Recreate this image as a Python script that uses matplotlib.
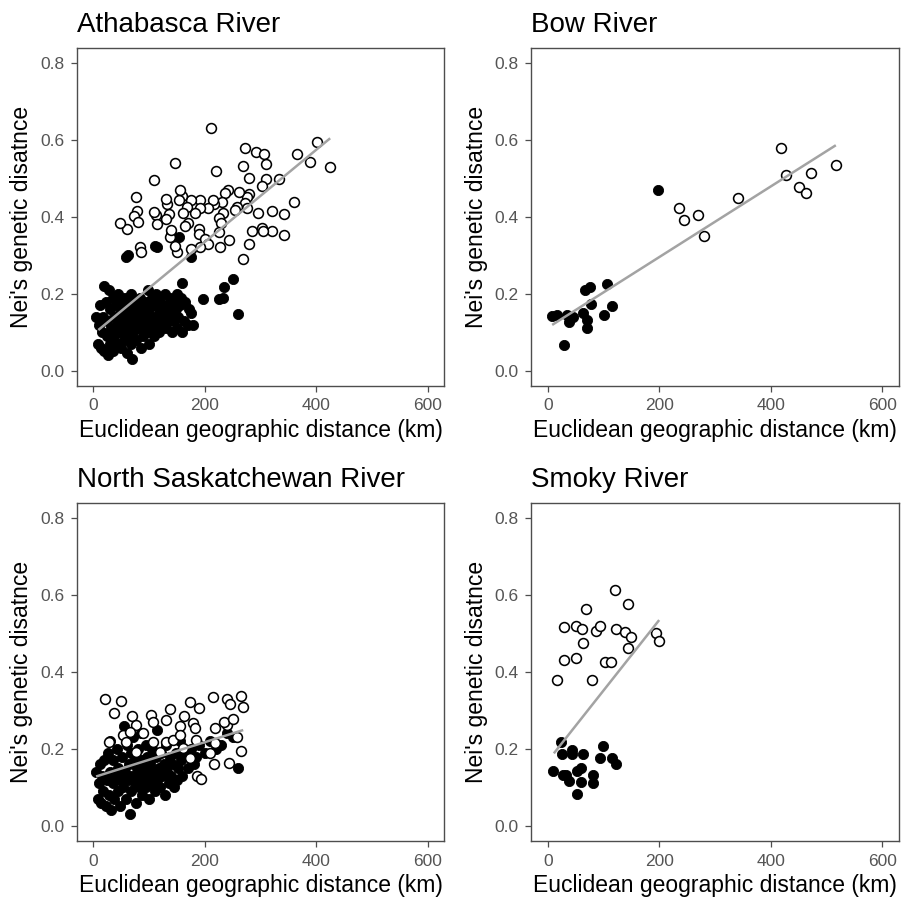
import numpy as np
import matplotlib
matplotlib.use("Agg")
import matplotlib.pyplot as plt

plt.rcParams['font.family'] = ['Liberation Sans', 'DejaVu Sans']

# ---------------- data ----------------
panel_titles = ["Athabasca River", "Bow River", "North Saskatchewan River", "Smoky River"]
x_label = "Euclidean geographic distance (km)"
y_label = "Nei's genetic disatnce"
x_ticks = [0, 200, 400, 600]
y_ticks = [0.0, 0.2, 0.4, 0.6, 0.8]

# Athabasca River
ath_open_km = [211, 273, 292, 307, 310, 268, 220, 147, 108, 279, 310, 334, 303, 366, 402, 388, 424,
               360, 342, 343, 321, 320, 295, 303, 304, 284, 279, 268, 244, 227, 280, 276, 262, 272,
               275, 257, 255, 242, 237, 231, 233, 225, 230, 226, 216, 214, 205, 191, 191, 182, 175,
               169, 161, 170, 164, 159, 156, 153, 190, 190, 200, 206, 191, 176, 151, 146, 138, 139,
               135, 133, 130, 130, 113, 108, 114, 77, 78, 73, 81, 60, 48, 84, 85]
ath_open_nd = [0.633, 0.579, 0.570, 0.564, 0.537, 0.533, 0.521, 0.541, 0.496, 0.502, 0.499, 0.499,
               0.481, 0.565, 0.594, 0.542, 0.529, 0.438, 0.408, 0.354, 0.364, 0.415, 0.410, 0.372,
               0.364, 0.364, 0.329, 0.290, 0.340, 0.323, 0.459, 0.453, 0.466, 0.436, 0.423, 0.427,
               0.418, 0.470, 0.462, 0.440, 0.410, 0.397, 0.385, 0.362, 0.434, 0.444, 0.424, 0.444,
               0.423, 0.411, 0.444, 0.427, 0.410, 0.385, 0.377, 0.454, 0.469, 0.443, 0.370, 0.357,
               0.344, 0.330, 0.323, 0.316, 0.309, 0.325, 0.349, 0.366, 0.407, 0.433, 0.446, 0.395,
               0.405, 0.412, 0.383, 0.453, 0.416, 0.403, 0.388, 0.370, 0.385, 0.321, 0.310]
ath_fill_km = [5, 8, 10, 12, 14, 15, 18, 20, 20, 22, 24, 25, 27, 28, 30, 30, 32, 35, 35, 37, 38, 40,
               42, 44, 45, 47, 48, 50, 50, 52, 55, 55, 57, 58, 60, 60, 62, 64, 65, 67, 68, 70, 70,
               72, 74, 75, 77, 78, 80, 82, 84, 85, 87, 88, 90, 92, 94, 95, 97, 98, 100, 100, 102,
               105, 106, 108, 110, 110, 112, 115, 117, 118, 120, 122, 125, 127, 128, 130, 132, 135,
               137, 140, 142, 143, 145, 148, 150, 150, 152, 155, 158, 160, 162, 165, 170, 172, 175,
               178, 59, 62, 111, 115, 139, 153, 175, 159, 196, 225, 232, 235, 250, 259]
ath_fill_nd = [0.14, 0.07, 0.12, 0.17, 0.06, 0.10, 0.14, 0.22, 0.05, 0.18, 0.09, 0.13, 0.04, 0.21,
               0.16, 0.07, 0.11, 0.19, 0.05, 0.14, 0.09, 0.17, 0.12, 0.07, 0.20, 0.15, 0.10, 0.18,
               0.06, 0.13, 0.08, 0.16, 0.19, 0.11, 0.14, 0.045, 0.09, 0.17, 0.12, 0.07, 0.20, 0.15,
               0.03, 0.10, 0.13, 0.18, 0.08, 0.16, 0.11, 0.14, 0.19, 0.06, 0.12, 0.17, 0.09, 0.15,
               0.13, 0.18, 0.10, 0.21, 0.16, 0.07, 0.12, 0.14, 0.19, 0.09, 0.17, 0.11, 0.20, 0.13,
               0.15, 0.10, 0.18, 0.12, 0.16, 0.14, 0.20, 0.11, 0.17, 0.13, 0.19, 0.15, 0.10, 0.18,
               0.13, 0.16, 0.20, 0.11, 0.14, 0.17, 0.19, 0.10, 0.13, 0.18, 0.12, 0.16, 0.15, 0.12,
               0.297, 0.300, 0.325, 0.323, 0.357, 0.347, 0.297, 0.229, 0.187, 0.187, 0.190, 0.219,
               0.239, 0.148]

# Bow River
bow_open_km = [236, 244, 270, 281, 341, 419, 427, 451, 463, 472, 517]
bow_open_nd = [0.423, 0.393, 0.405, 0.351, 0.449, 0.580, 0.510, 0.478, 0.462, 0.514, 0.536]
bow_fill_km = [7, 17, 30, 35, 38, 46, 64, 71, 70, 67, 76, 77, 101, 107, 116, 197]
bow_fill_nd = [0.141, 0.144, 0.067, 0.145, 0.126, 0.139, 0.149, 0.132, 0.112, 0.210, 0.218,
               0.173, 0.144, 0.225, 0.168, 0.469]

# North Saskatchewan River
ns_open_km = [21, 50, 38, 70, 104, 137, 174, 189, 214, 239, 246, 265, 269, 77, 107, 130, 162, 155,
              179, 182, 239, 234, 251, 53, 65, 59, 89, 107, 131, 143, 155, 185, 218, 218, 257, 265,
              210, 216, 243, 186, 194, 29, 77, 119, 161, 173]
ns_open_nd = [0.331, 0.325, 0.292, 0.285, 0.288, 0.304, 0.321, 0.305, 0.334, 0.330, 0.316, 0.338,
              0.308, 0.262, 0.271, 0.275, 0.286, 0.260, 0.266, 0.253, 0.262, 0.271, 0.278, 0.236,
              0.245, 0.219, 0.241, 0.219, 0.219, 0.223, 0.236, 0.223, 0.253, 0.214, 0.232, 0.194,
              0.188, 0.161, 0.164, 0.129, 0.121, 0.219, 0.193, 0.193, 0.201, 0.175]
ns_fill_km = [5, 8, 10, 12, 14, 16, 18, 20, 22, 24, 26, 28, 30, 30, 32, 35, 36, 38, 40, 42, 44, 45,
              48, 50, 52, 54, 55, 56, 58, 60, 62, 64, 65, 67, 68, 70, 72, 74, 75, 77, 78, 80, 82,
              84, 85, 87, 88, 90, 92, 94, 95, 97, 98, 100, 102, 104, 105, 108, 110, 112, 114, 115,
              118, 120, 122, 124, 126, 128, 130, 132, 135, 137, 140, 142, 145, 148, 150, 152, 155,
              158, 160, 165, 170, 175, 180, 185, 190, 200, 210, 220, 230, 240, 250, 260]
ns_fill_nd = [0.14, 0.07, 0.11, 0.16, 0.06, 0.13, 0.09, 0.17, 0.05, 0.12, 0.19, 0.08, 0.14, 0.22,
              0.04, 0.11, 0.17, 0.07, 0.13, 0.20, 0.09, 0.15, 0.05, 0.12, 0.18, 0.10, 0.26, 0.14,
              0.07, 0.21, 0.12, 0.16, 0.03, 0.09, 0.19, 0.13, 0.23, 0.11, 0.17, 0.06, 0.15, 0.20,
              0.10, 0.13, 0.24, 0.08, 0.17, 0.12, 0.15, 0.21, 0.10, 0.18, 0.13, 0.07, 0.16, 0.11,
              0.20, 0.14, 0.09, 0.18, 0.12, 0.25, 0.15, 0.10, 0.19, 0.13, 0.16, 0.08, 0.21, 0.14,
              0.11, 0.18, 0.13, 0.16, 0.10, 0.19, 0.12, 0.15, 0.22, 0.17, 0.13, 0.19, 0.15, 0.20,
              0.16, 0.18, 0.21, 0.19, 0.22, 0.20, 0.21, 0.24, 0.23, 0.149]

# Smoky River
smo_open_km = [17, 29, 29, 51, 51, 61, 68, 63, 79, 87, 93, 102, 114, 121, 122, 139, 144, 149, 144,
               195, 200]
smo_open_nd = [0.379, 0.518, 0.432, 0.520, 0.437, 0.513, 0.563, 0.476, 0.378, 0.508, 0.519, 0.425,
               0.425, 0.613, 0.512, 0.505, 0.577, 0.492, 0.462, 0.502, 0.481]
smo_fill_km = [10, 23, 25, 27, 33, 39, 43, 43, 52, 53, 59, 60, 63, 81, 81, 94, 99, 115, 122]
smo_fill_nd = [0.141, 0.218, 0.186, 0.132, 0.133, 0.116, 0.197, 0.186, 0.082, 0.141, 0.151, 0.113,
               0.187, 0.133, 0.111, 0.177, 0.208, 0.177, 0.161]

# regression lines: intercept, slope, x-range
fit_intercept = [0.095, 0.1117, 0.1257, 0.168]
fit_slope = [0.0012, 0.000919, 0.000458, 0.001836]
fit_xmin = [9, 8, 5, 11]
fit_xmax = [425, 517, 269, 200]

panels = [
    (ath_open_km, ath_open_nd, ath_fill_km, ath_fill_nd),
    (bow_open_km, bow_open_nd, bow_fill_km, bow_fill_nd),
    (ns_open_km, ns_open_nd, ns_fill_km, ns_fill_nd),
    (smo_open_km, smo_open_nd, smo_fill_km, smo_fill_nd),
]

# ---------------- layout ----------------
W, H = 902, 899
fig = plt.figure(figsize=(W / 100, H / 100), dpi=100)
fig.patch.set_facecolor('white')

lefts = [76.6, 531.0]
tops = [48.0, 503.0]
aw, ah = 367.8, 338.0

for i in range(4):
    r, c = divmod(i, 2)
    l = lefts[c]
    t = tops[r]
    ax = fig.add_axes([l / W, 1 - (t + ah) / H, aw / W, ah / H])
    ok, on, fk, fn = panels[i]
    ax.scatter(fk, fn, s=54, c='black', edgecolors='black', linewidths=0.6, zorder=2)
    ax.scatter(ok, on, s=50, facecolors='white', edgecolors='black', linewidths=1.15, zorder=3)
    xr = np.array([fit_xmin[i], fit_xmax[i]])
    ax.plot(xr, fit_intercept[i] + fit_slope[i] * xr, color='#a3a3a3', lw=1.8, zorder=4,
            solid_capstyle='butt')
    ax.set_xlim(-30, 630)
    ax.set_ylim(-0.04, 0.84)
    ax.set_xticks(x_ticks)
    ax.set_yticks(y_ticks)
    ax.set_xticklabels([str(v) for v in x_ticks])
    ax.set_yticklabels([f"{v:.1f}" for v in y_ticks])
    ax.tick_params(axis='both', length=4.5, width=0.9, color='#4d4d4d', labelcolor='#555555',
                   labelsize=12.5, pad=4.5)
    for sp in ax.spines.values():
        sp.set_color('#4d4d4d')
        sp.set_linewidth(1.0)
    ax.set_title(panel_titles[i], loc='left', fontsize=20, pad=11.5, color='black')
    # axis titles
    fig.text((l + aw / 2) / W, 1 - (t + 389) / H, x_label, ha='center', va='baseline',
             fontsize=16.5, color='black')
    fig.text((l - 54.6) / W, 1 - (t + 169) / H, y_label, ha='center', va='center',
             rotation=90, fontsize=16.5, color='black')

fig.savefig('out.png', dpi=100, facecolor='white')
